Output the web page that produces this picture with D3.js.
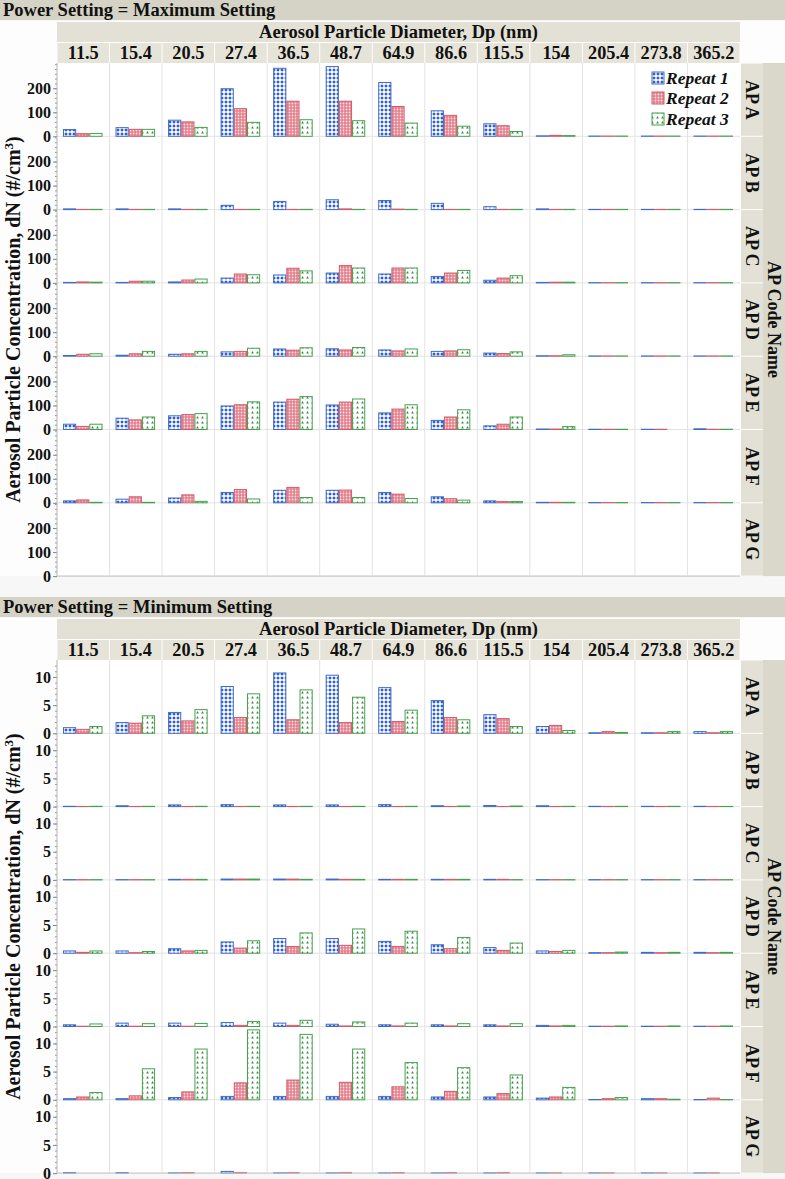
<!DOCTYPE html>
<html><head><meta charset="utf-8">
<script src="https://cdn.jsdelivr.net/npm/d3@7"></script>
<style>body{margin:0;background:#f7f7f7}svg{display:block}</style>
</head><body><svg id="c" width="785" height="1179"></svg>
<script>
const diameters = ["11.5","15.4","20.5","27.4","36.5","48.7","64.9","86.6","115.5","154","205.4","273.8","365.2"];
const codes = ["AP A","AP B","AP C","AP D","AP E","AP F","AP G"];
const repeats = ["Repeat 1","Repeat 2","Repeat 3"];
const maxTicks = [0,100,200];
const minTicks = [0,5,10];

// Maximum setting: [Repeat 1, Repeat 2, Repeat 3] per diameter
const maxAPA = [[28,36,67,198,283,290,224,106,52,2,1,1,1],[11,29,60,115,146,146,124,87,44,4,1,1,1],[12,29,37,58,69,65,55,42,20,3,1,1,1]];
const maxAPB = [[3,3,3,18,34,41,38,26,12,3,1,1,1],[1,1,1,1,1,3,2,1,1,1,1,1,1],[1,1,1,1,1,1,1,1,1,1,1,1,1]];
const maxAPC = [[2,2,4,20,33,41,37,27,11,2,1,1,1],[4,7,12,37,61,72,62,41,20,3,1,1,1],[3,7,16,34,50,62,62,52,30,3,1,1,1]];
const maxAPD = [[3,4,8,18,30,31,26,20,13,2,1,1,1],[8,10,10,20,25,26,22,22,11,2,1,1,1],[10,20,20,33,35,36,30,27,18,6,1,1,1]];
const maxAPE = [[22,47,57,98,114,102,69,38,15,2,1,1,3],[13,40,62,103,126,114,85,52,22,2,1,1,1],[22,52,66,115,137,127,103,82,52,12,1,0,1]];
const maxAPF = [[8,15,20,43,52,52,43,25,8,2,1,1,1],[12,25,33,55,64,53,36,17,5,2,1,1,1],[2,2,6,16,22,22,18,11,5,2,1,1,1]];
const maxAPG = [[0,0,0,0,0,0,0,0,0,0,0,0,0],[0,0,0,0,0,0,0,0,0,0,0,0,0],[0,0,0,0,0,0,0,0,0,0,0,0,0]];

// Minimum setting
const minAPA = [[1.0,1.9,3.7,8.3,10.7,10.3,8.1,5.8,3.3,1.2,0.1,0.1,0.3],[0.7,1.8,2.2,2.8,2.4,1.9,2.1,2.8,2.6,1.4,0.3,0.1,0.1],[1.2,3.1,4.2,7.0,7.7,6.4,4.1,2.4,1.2,0.5,0.15,0.3,0.3]];
const minAPB = [[0.05,0.15,0.3,0.35,0.3,0.3,0.35,0.15,0.2,0.15,0.05,0.05,0.05],[0.03,0.03,0.03,0.03,0.03,0.03,0.03,0.03,0.03,0.03,0.03,0.03,0.03],[0.05,0.05,0.05,0.05,0.05,0.05,0.05,0.1,0.1,0.05,0.05,0.05,0.03]];
const minAPC = [[0.05,0.05,0.1,0.15,0.15,0.15,0.1,0.1,0.1,0.05,0.05,0.05,0.05],[0.05,0.05,0.1,0.15,0.15,0.1,0.1,0.1,0.1,0.05,0.05,0.05,0.05],[0.05,0.05,0.1,0.15,0.1,0.1,0.1,0.1,0.05,0.05,0.05,0.05,0.05]];
const minAPD = [[0.4,0.4,0.8,2.0,2.6,2.6,2.1,1.5,1.0,0.4,0.1,0.15,0.15],[0.15,0.1,0.4,0.9,1.2,1.4,1.2,0.8,0.5,0.3,0.1,0.1,0.1],[0.4,0.3,0.5,2.2,3.6,4.3,3.9,2.8,1.8,0.5,0.2,0.15,0.15]];
const minAPE = [[0.3,0.6,0.6,0.7,0.6,0.4,0.3,0.3,0.3,0.2,0.05,0.05,0.05],[0.05,0.05,0.05,0.2,0.2,0.1,0.1,0.1,0.1,0.1,0.05,0.05,0.05],[0.45,0.5,0.55,0.9,1.1,0.8,0.6,0.5,0.5,0.2,0.1,0.1,0.1]];
const minAPF = [[0.2,0.2,0.4,0.6,0.6,0.6,0.6,0.5,0.5,0.3,0.05,0.2,0.05],[0.5,0.7,1.4,3.0,3.5,3.1,2.3,1.5,1.1,0.5,0.2,0.2,0.3],[1.3,5.5,9.0,12.4,11.6,9.0,6.6,5.7,4.4,2.2,0.4,0.1,0.05]];
const minAPG = [[0.1,0.1,0.05,0.3,0.05,0.05,0.05,0.05,0.05,0.05,0.05,0.05,0.05],[0,0,0.1,0.1,0.1,0.1,0.1,0.1,0.1,0.05,0.05,0.05,0.05],[0,0,0,0,0,0,0,0,0,0,0,0,0]];

const panels = [
  {title:"Power Setting = Maximum Setting", top:0, ymax:305, ticks:maxTicks, minor:20,
   data:[maxAPA,maxAPB,maxAPC,maxAPD,maxAPE,maxAPF,maxAPG], legend:true},
  {title:"Power Setting = Minimum Setting", top:597, ymax:13, ticks:minTicks, minor:1,
   data:[minAPA,minAPB,minAPC,minAPD,minAPE,minAPF,minAPG], legend:false}
];

const W = 785, plotL = 57, plotR = 740, stripL = 741, stripM = 763;
const rowH = 73.3;
const serif = "'Liberation Serif','Times New Roman',serif";
const svg = d3.select("#c");

// patterns
const defs = svg.append("defs");
const p1 = defs.append("pattern").attr("id","pat1").attr("patternUnits","userSpaceOnUse").attr("width",4).attr("height",4);
p1.append("rect").attr("width",4).attr("height",4).attr("fill","#ffffff");
p1.append("path").attr("d","M2,0.2 L3.8,2 L2,3.8 L0.2,2 Z").attr("fill","#2d5cc2");
const p2 = defs.append("pattern").attr("id","pat2").attr("patternUnits","userSpaceOnUse").attr("width",3).attr("height",3);
p2.append("rect").attr("width",3).attr("height",3).attr("fill","#e3808d");
p2.append("circle").attr("cx",1.5).attr("cy",1.5).attr("r",0.9).attr("fill","#fae0e4");
const p3 = defs.append("pattern").attr("id","pat3").attr("patternUnits","userSpaceOnUse").attr("width",5).attr("height",5);
p3.append("rect").attr("width",5).attr("height",5).attr("fill","#ffffff");
p3.append("path").attr("d","M2.5,1.1 L3.8,3.4 L1.2,3.4 Z").attr("fill","#2f8c3a");
const fills = ["url(#pat1)","url(#pat2)","url(#pat3)"];
const strokes = ["#3f6cc8","#d05d6c","#46a04f"];

const x = d3.scaleBand().domain(diameters).range([plotL, plotR]).padding(0);
const xi = d3.scaleBand().domain(repeats).range([6, x.bandwidth()-7]).padding(0);

panels.forEach(P => {
  const t = P.top;
  const plotTop = t + 63, plotBot = plotTop + rowH*codes.length;
  const g = svg.append("g");
  // title bar
  g.append("rect").attr("x",0).attr("y",t).attr("width",W).attr("height",20).attr("fill","#d5d3c5");
  g.append("text").attr("x",3).attr("y",t+16).attr("font-family",serif).attr("font-weight","bold")
    .attr("font-size",18.5).attr("fill","#111").text(P.title);
  // white area
  g.append("rect").attr("x",0).attr("y",t+21).attr("width",W).attr("height",plotBot-t-21).attr("fill","#fdfdfd");
  // header
  g.append("rect").attr("x",plotL).attr("y",t+22).attr("width",plotR-plotL).attr("height",20).attr("fill","#e3e1d5");
  g.append("text").attr("x",(plotL+plotR)/2).attr("y",t+38).attr("text-anchor","middle").attr("font-family",serif)
    .attr("font-weight","bold").attr("font-size",18.5).attr("fill","#111").text("Aerosol Particle Diameter, Dp (nm)");
  diameters.forEach(d => {
    g.append("rect").attr("x",x(d)+0.5).attr("y",t+43).attr("width",x.bandwidth()-1).attr("height",20).attr("fill","#e6e4d9");
    g.append("text").attr("x",x(d)+x.bandwidth()/2).attr("y",t+59).attr("text-anchor","middle").attr("font-family",serif)
      .attr("font-weight","bold").attr("font-size",18.3).attr("fill","#111").text(d);
  });
  // plot bg
  g.append("rect").attr("x",plotL).attr("y",plotTop).attr("width",plotR-plotL).attr("height",plotBot-plotTop).attr("fill","#ffffff");
  // right strips
  g.append("rect").attr("x",stripM).attr("y",plotTop).attr("width",W-stripM).attr("height",plotBot-plotTop).attr("fill","#dad8cb");
  g.append("text").attr("transform",`translate(${stripM+5},${(plotTop+plotBot)/2}) rotate(90)`).attr("text-anchor","middle")
    .attr("font-family",serif).attr("font-weight","bold").attr("font-size",18).attr("fill","#111").text("AP Code Name");
  // vertical grid lines
  diameters.slice(1).forEach(d => {
    g.append("line").attr("x1",x(d)).attr("x2",x(d)).attr("y1",plotTop).attr("y2",plotBot).attr("stroke","#e3e3e3").attr("stroke-width",1);
  });
  codes.forEach((c, r) => {
    const r0 = plotTop + r*rowH, r1 = r0 + rowH;
    const y = d3.scaleLinear().domain([0, P.ymax]).range([r1, r0]);
    // strip cell
    g.append("rect").attr("x",stripL).attr("y",r0+0.5).attr("width",stripM-stripL).attr("height",rowH-1).attr("fill","#e3e1d5");
    g.append("text").attr("transform",`translate(${stripL+5},${(r0+r1)/2}) rotate(90)`).attr("text-anchor","middle")
      .attr("font-family",serif).attr("font-weight","bold").attr("font-size",18).attr("fill","#111").text(c);
    // baseline grid
    g.append("line").attr("x1",plotL).attr("x2",plotR).attr("y1",y(0)).attr("y2",y(0)).attr("stroke","#e3e3e3");
    // bars
    const vals = P.data[r];
    repeats.forEach((rep, k) => {
      g.append("g").selectAll("rect").data(diameters.map((d,i)=>({d, v: vals[k][i]})).filter(o=>o.v>0))
        .join("rect")
        .attr("x", o => x(o.d) + xi(rep) + 0.5)
        .attr("y", o => y(o.v))
        .attr("width", xi.bandwidth() - 1)
        .attr("height", o => y(0) - y(o.v))
        .attr("fill", fills[k]).attr("stroke", strokes[k]).attr("stroke-width",1);
    });
    // axes
    const minorAx = d3.axisLeft(y).tickValues(d3.range(0, P.ymax, P.minor)).tickSize(2).tickFormat("");
    const ga2 = g.append("g").attr("transform",`translate(${plotL},0)`).call(minorAx);
    ga2.select(".domain").remove();
    ga2.selectAll("line").attr("stroke","#999");
    const ax = d3.axisLeft(y).tickValues(P.ticks).tickSize(4).tickPadding(2);
    const ga = g.append("g").attr("transform",`translate(${plotL},0)`).call(ax);
    ga.select(".domain").remove();
    ga.selectAll("line").attr("stroke","#888");
    ga.selectAll("text").attr("font-family",serif).attr("font-weight","bold").attr("font-size",16).attr("fill","#111");
  });
  g.append("line").attr("x1",plotL).attr("x2",plotL).attr("y1",plotTop).attr("y2",plotBot).attr("stroke","#b5b5b5");
  g.append("line").attr("x1",plotL).attr("x2",plotR).attr("y1",plotBot).attr("y2",plotBot).attr("stroke","#c8c8c8");
  // y title
  g.append("text").attr("transform",`translate(20,${(plotTop+plotBot)/2}) rotate(-90)`).attr("text-anchor","middle")
    .attr("font-family",serif).attr("font-weight","bold").attr("font-size",20).attr("fill","#111")
    .html('Aerosol Particle Concentration, dN (#/cm<tspan baseline-shift="super" font-size="13">3</tspan>)');
  if (P.legend) {
    const lg = g.append("g");
    const ly = [78, 98, 119];
    repeats.forEach((rep,k) => {
      lg.append("rect").attr("x",652).attr("y",ly[k]-6).attr("width",12).attr("height",12)
        .attr("fill",fills[k]).attr("stroke",strokes[k]);
      lg.append("text").attr("x",666).attr("y",ly[k]+5.5).attr("font-family",serif).attr("font-weight","bold")
        .attr("font-style","italic").attr("font-size",17.5).attr("fill","#111").text(rep);
    });
  }
});
</script></body></html>
